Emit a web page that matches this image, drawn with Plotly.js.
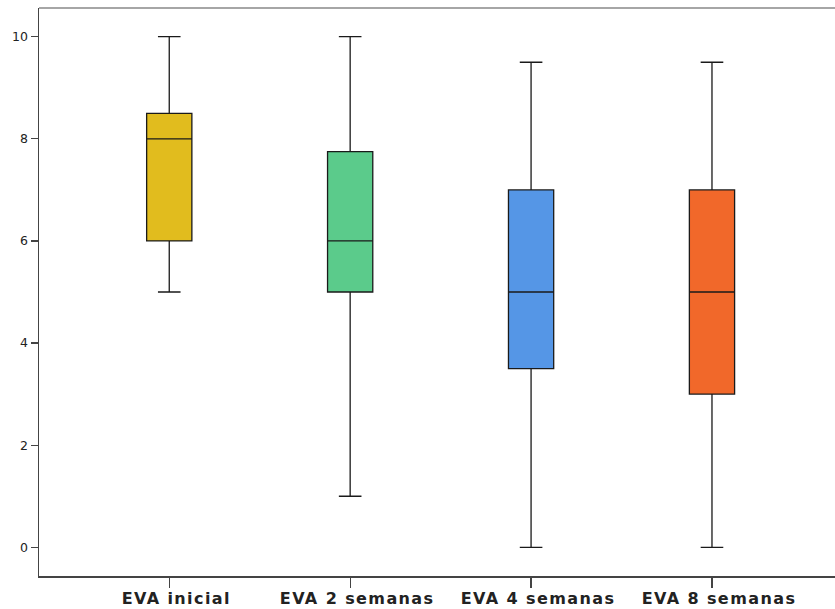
<!DOCTYPE html>
<html>
<head>
<meta charset="utf-8">
<script src="https://cdn.plot.ly/plotly-3.0.1.min.js"></script>
<style>html,body{margin:0;padding:0;background:#fff;}#chart{width:835px;height:609px;}
#chart .xtick text{letter-spacing:1.4px;}</style>
</head>
<body>
<div id="chart"></div>
<script>
const categories = ["EVA inicial", "EVA 2 semanas", "EVA 4 semanas", "EVA 8 semanas"];
const lowerWhisker = [5, 1, 0, 0];
const q1Values = [6, 5, 3.5, 3];
const medianValues = [8, 6, 5, 5];
const q3Values = [8.5, 7.75, 7, 7];
const upperWhisker = [10, 10, 9.5, 9.5];
const boxColors = ["#E1BC1E", "#5BCB8B", "#5596E6", "#F1682A"];
const yTicks = [0, 2, 4, 6, 8, 10];

const traces = categories.map((c, i) => ({
  type: "box",
  x: [c],
  q1: [q1Values[i]],
  median: [medianValues[i]],
  q3: [q3Values[i]],
  lowerfence: [lowerWhisker[i]],
  upperfence: [upperWhisker[i]],
  width: 0.25,
  whiskerwidth: 0.5,
  fillcolor: boxColors[i],
  line: {color: "#1a1a1a", width: 1.3},
  boxpoints: false,
  hoverinfo: "skip",
  showlegend: false
}));

const layout = {
  width: 835, height: 609,
  margin: {l: 39, r: 0, t: 8, b: 33},
  paper_bgcolor: "#fff", plot_bgcolor: "#fff",
  boxmode: "overlay",
  font: {family: "DejaVu Sans, sans-serif", color: "#222"},
  xaxis: {
    type: "category",
    categoryorder: "array", categoryarray: categories,
    range: [-0.72, 3.68],
    showgrid: false, zeroline: false,
    showline: true, linecolor: "#444", linewidth: 1.5,
    ticks: "outside", ticklen: 10, tickwidth: 1.3, tickcolor: "#444",
    ticklabelshift: 7,
    ticklabelstandoff: -3,
    tickfont: {family: "DejaVu Sans, sans-serif", size: 16, color: "#222", weight: "bold"},
    fixedrange: true
  },
  yaxis: {
    range: [-0.562, 10.562],
    tickvals: yTicks,
    ticktext: yTicks.map(String),
    showgrid: false, zeroline: false,
    showline: true, linecolor: "#444", linewidth: 1.5,
    ticks: "outside", ticklen: 7, tickwidth: 1.3, tickcolor: "#444",
    tickfont: {family: "DejaVu Sans, sans-serif", size: 12.5, color: "#222"},
    fixedrange: true
  },
  shapes: [{
    type: "line", xref: "paper", yref: "paper",
    x0: 0, x1: 1, y0: 1, y1: 1,
    line: {color: "#888", width: 1.5}
  }]
};

Plotly.newPlot("chart", traces, layout, {displayModeBar: false, staticPlot: true});
</script>
</body>
</html>
